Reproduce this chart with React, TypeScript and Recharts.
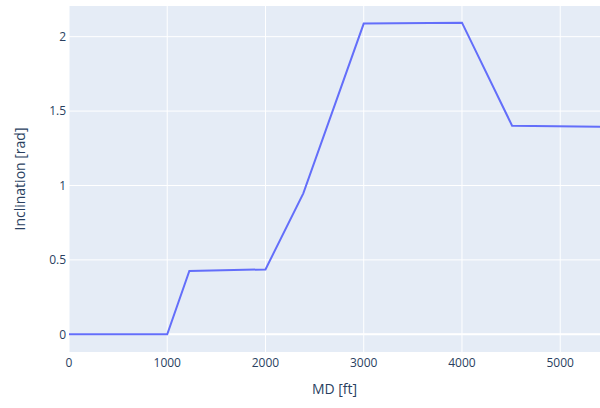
import { CartesianGrid, Label, Line, LineChart, ReferenceLine, XAxis, YAxis } from "recharts";

const md = [0, 1000, 1225, 2000, 2385, 3000, 4000, 4510, 5405];
const inclination = [0, 0, 0.426, 0.436, 0.947, 2.088, 2.094, 1.402, 1.395];

const xTicks = [0, 1000, 2000, 3000, 4000, 5000];
const yTicks = [0, 0.5, 1, 1.5, 2];

const data = md.map((m, i) => ({ md: m, inc: inclination[i] }));

const FONT = '"Open Sans", verdana, arial, sans-serif';
const INK = "#2a3f5f";

export default function App() {
  return (
    <div style={{ position: "absolute", left: 0, top: 0, width: 600, height: 408, background: "#fff" }}>
      <LineChart width={600} height={408} data={data} margin={{ top: 6, right: 0, left: 0, bottom: 0 }}>
        <CartesianGrid fill="#E5ECF6" stroke="#ffffff" strokeWidth={1} verticalValues={xTicks} horizontalValues={yTicks} />
        <XAxis
          dataKey="md"
          type="number"
          domain={[0, 5405]}
          ticks={xTicks}
          allowDataOverflow
          height={56}
          axisLine={false}
          tickLine={false}
          tickSize={0}
          tickMargin={6}
          tick={{ fill: INK, fontSize: 12, fontFamily: FONT }}
        >
          <Label value="MD [ft]" position="insideBottom" offset={14} style={{ fill: INK, fontSize: 14, fontFamily: FONT }} />
        </XAxis>
        <YAxis
          type="number"
          domain={[-0.119, 2.206]}
          ticks={yTicks}
          allowDataOverflow
          width={69}
          axisLine={false}
          tickLine={false}
          tickSize={0}
          tickMargin={3}
          tick={{ fill: INK, fontSize: 12, fontFamily: FONT }}
        >
          <Label
            value="Inclination [rad]"
            angle={-90}
            position="insideLeft"
            offset={20}
            style={{ fill: INK, fontSize: 14, fontFamily: FONT, textAnchor: "middle" }}
          />
        </YAxis>
        <ReferenceLine y={0} stroke="#ffffff" strokeWidth={2} />
        <Line
          dataKey="inc"
          type="linear"
          stroke="#636efa"
          strokeWidth={2}
          dot={false}
          activeDot={false}
          isAnimationActive={false}
        />
      </LineChart>
    </div>
  );
}
